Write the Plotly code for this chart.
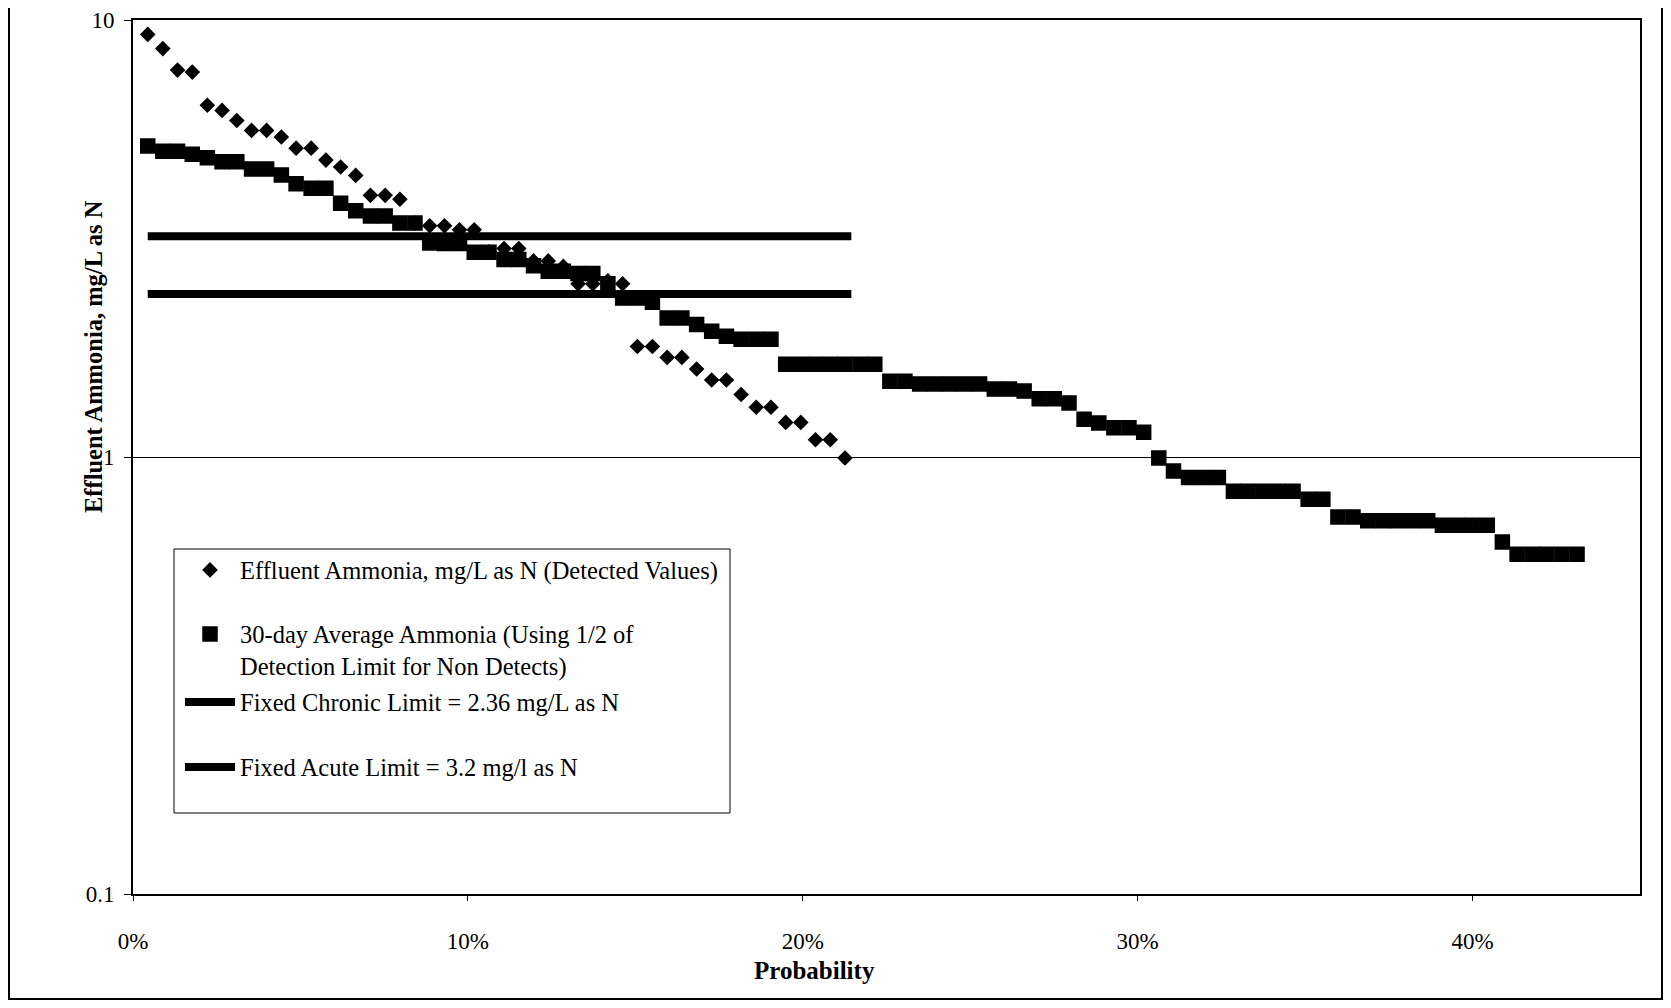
import plotly.graph_objects as go

# ---------------- data ----------------
# Detected effluent ammonia values (diamonds), mg/L as N
det_prob = [0.0044, 0.0089, 0.0133, 0.0177, 0.0222, 0.0266, 0.0310, 0.0354, 0.0399, 0.0443,
            0.0487, 0.0532, 0.0576, 0.0620, 0.0665, 0.0709, 0.0753, 0.0797, 0.0842, 0.0886,
            0.0930, 0.0975, 0.1019, 0.1063, 0.1108, 0.1152, 0.1196, 0.1240, 0.1285, 0.1329,
            0.1373, 0.1418, 0.1462, 0.1506, 0.1551, 0.1595, 0.1639, 0.1683, 0.1728, 0.1772,
            0.1816, 0.1861, 0.1905, 0.1949, 0.1994, 0.2038, 0.2082, 0.2126]
det_val = [9.27, 8.60, 7.68, 7.60, 6.38, 6.21, 5.89, 5.59, 5.59, 5.40,
           5.09, 5.09, 4.78, 4.61, 4.41, 3.97, 3.97, 3.89, 3.43, 3.38,
           3.38, 3.31, 3.31, 2.95, 3.00, 3.00, 2.81, 2.81, 2.73, 2.49,
           2.49, 2.53, 2.49, 1.79, 1.79, 1.69, 1.69, 1.59, 1.50, 1.50,
           1.39, 1.30, 1.30, 1.20, 1.20, 1.095, 1.095, 0.995]

# 30-day average ammonia (squares), mg/L as N
avg_prob = [0.0044, 0.0089, 0.0133, 0.0177, 0.0222, 0.0266, 0.0310, 0.0354, 0.0399, 0.0443,
            0.0487, 0.0532, 0.0576, 0.0620, 0.0665, 0.0709, 0.0753, 0.0797, 0.0842, 0.0886,
            0.0930, 0.0975, 0.1019, 0.1063, 0.1108, 0.1152, 0.1196, 0.1240, 0.1285, 0.1329,
            0.1373, 0.1418, 0.1462, 0.1506, 0.1551, 0.1595, 0.1639, 0.1683, 0.1728, 0.1772,
            0.1816, 0.1861, 0.1905, 0.1949, 0.1994, 0.2038, 0.2082, 0.2126, 0.2171, 0.2215,
            0.2260, 0.2305, 0.2349, 0.2394, 0.2438, 0.2483, 0.2528, 0.2572, 0.2617, 0.2661,
            0.2706, 0.2751, 0.2795, 0.2840, 0.2884, 0.2929, 0.2974, 0.3018, 0.3063, 0.3107,
            0.3152, 0.3197, 0.3241, 0.3286, 0.3330, 0.3375, 0.3420, 0.3464, 0.3509, 0.3553,
            0.3598, 0.3643, 0.3687, 0.3732, 0.3776, 0.3821, 0.3866, 0.3910, 0.3955, 0.3999,
            0.4044, 0.4089, 0.4133, 0.4178, 0.4222, 0.4267, 0.4312]
avg_val = [5.15, 5.01, 5.01, 4.93, 4.84, 4.74, 4.74, 4.56, 4.56, 4.42,
           4.22, 4.12, 4.12, 3.81, 3.66, 3.56, 3.56, 3.43, 3.43, 3.09,
           3.08, 3.08, 2.94, 2.94, 2.83, 2.83, 2.74, 2.66, 2.66, 2.63,
           2.63, 2.49, 2.31, 2.31, 2.26, 2.08, 2.08, 2.01, 1.94, 1.89,
           1.86, 1.86, 1.86, 1.63, 1.63, 1.63, 1.63, 1.63, 1.63, 1.63,
           1.49, 1.49, 1.47, 1.47, 1.47, 1.47, 1.47, 1.43, 1.43, 1.415,
           1.36, 1.36, 1.33, 1.22, 1.196, 1.167, 1.167, 1.14, 0.995, 0.929,
           0.898, 0.898, 0.898, 0.835, 0.835, 0.835, 0.835, 0.835, 0.80, 0.80,
           0.729, 0.729, 0.715, 0.715, 0.715, 0.715, 0.715, 0.698, 0.698, 0.698,
           0.698, 0.639, 0.599, 0.599, 0.599, 0.599, 0.599]

# Fixed limits (horizontal lines over the detected-value range)
limit_prob = [0.0044, 0.2145]
chronic_val = [2.36, 2.36]
acute_val = [3.2, 3.2]

x_tick_vals = [0.0, 0.1, 0.2, 0.3, 0.4]
x_tick_text = ["0%", "10%", "20%", "30%", "40%"]
y_tick_vals = [0.1, 1, 10]
y_tick_text = ["0.1", "1", "10"]

names = [
    "Effluent Ammonia, mg/L as N (Detected Values)",
    "30-day Average Ammonia (Using 1/2 of<br>Detection Limit for Non Detects)",
    "Fixed Chronic Limit = 2.36 mg/L as N",
    "Fixed Acute Limit = 3.2 mg/l as N",
]

# ---------------- layout geometry ----------------
# Page pixel coordinates of the plot area; the HTML body adds an 8px offset.
OFF = 8
W, H = 1655, 992
L, R, T, B = 133, 1640, 20, 894
PW, PH = R - L, B - T


def px(xp):
    return (xp - L) / PW


def py(yp):
    return (B - yp) / PH


SERIF = "Liberation Serif"

fig = go.Figure()
fig.add_trace(go.Scatter(x=det_prob, y=det_val, mode="markers", name=names[0],
                         marker=dict(symbol="diamond", size=12, color="black"),
                         legend="legend"))
fig.add_trace(go.Scatter(x=avg_prob, y=avg_val, mode="markers", name=names[1],
                         marker=dict(symbol="square", size=14, color="black",
                                     line=dict(color="black", width=1.5)),
                         legend="legend2"))
fig.add_trace(go.Scatter(x=limit_prob, y=chronic_val, mode="lines", name=names[2],
                         line=dict(color="black", width=8), legend="legend3"))
fig.add_trace(go.Scatter(x=limit_prob, y=acute_val, mode="lines", name=names[3],
                         line=dict(color="black", width=8), legend="legend4"))

leg_font = dict(family=SERIF, size=24.5, color="black")


def leg(ycenter, valign="middle"):
    return dict(x=px(180), xanchor="left", y=py(ycenter), yanchor="middle",
                bgcolor="rgba(0,0,0,0)", borderwidth=0, font=leg_font,
                itemwidth=50, valign=valign)


fig.update_layout(
    width=W, height=H,
    margin=dict(l=L - OFF, r=W - (R - OFF), t=T - OFF, b=H - (B - OFF), pad=0,
                autoexpand=False),
    paper_bgcolor="white", plot_bgcolor="white",
    font=dict(family=SERIF, color="black"),
    showlegend=True,
    legend=leg(570),
    legend2=leg(650, "top"),
    legend3=leg(702),
    legend4=leg(767),
    xaxis=dict(range=[0, 0.45], tickvals=x_tick_vals, ticktext=x_tick_text,
               ticks="outside", ticklen=5, tickwidth=1, tickcolor="black",
               showline=True, linecolor="black", linewidth=2, mirror=True,
               showgrid=False, zeroline=False, ticklabelstandoff=20,
               tickfont=dict(family=SERIF, size=23, color="black")),
    yaxis=dict(type="log", range=[-1, 1], tickvals=y_tick_vals, ticktext=y_tick_text,
               ticks="outside", ticklen=7, tickwidth=1, tickcolor="black",
               showline=True, linecolor="black", linewidth=2, mirror=True,
               showgrid=True, gridcolor="black", gridwidth=1, zeroline=False,
               ticklabelstandoff=5,
               tickfont=dict(family=SERIF, size=23, color="black")),
    annotations=[
        dict(text="<b>Effluent Ammonia, mg/L as N</b>", xref="paper", yref="paper",
             x=0, xshift=-40, y=py(357), xanchor="center", yanchor="middle",
             textangle=-90, showarrow=False,
             font=dict(family=SERIF, size=24.5, color="black")),
        dict(text="<b>Probability</b>", xref="paper", yref="paper",
             x=px(814), y=py(970), xanchor="center", yanchor="middle",
             showarrow=False, font=dict(family=SERIF, size=25, color="black")),
    ],
    shapes=[
        # legend box
        dict(type="rect", xref="paper", yref="paper",
             x0=px(174), x1=px(730), y0=py(813), y1=py(549),
             line=dict(color="black", width=1), fillcolor="rgba(0,0,0,0)"),
        # outer chart border
        dict(type="rect", xref="paper", yref="paper",
             x0=px(9), x1=px(1662), y0=py(999), y1=py(-10),
             line=dict(color="black", width=2), fillcolor="rgba(0,0,0,0)"),
    ],
)

fig.write_html("out.html")
